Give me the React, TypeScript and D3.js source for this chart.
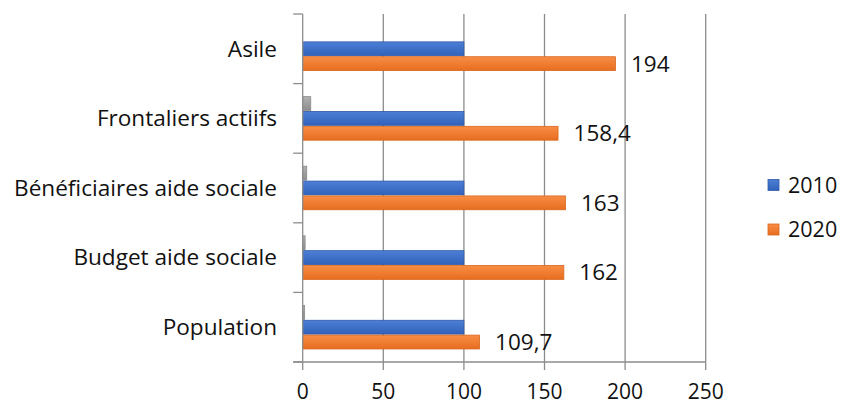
import React from "react";
import * as d3 from "d3";

const categories = ["Asile", "Frontaliers actiifs", "Bénéficiaires aide sociale", "Budget aide sociale", "Population"];
const seriesNames = ["other", "2010", "2020"];
const valuesOther = [0, 5, 2.5, 1.5, 1.2];
const values2010 = [100, 100, 100, 100, 100];
const values2020 = [194, 158.4, 163, 162, 109.7];
const xTicks = [0, 50, 100, 150, 200, 250];
const legendItems = ["2010", "2020"];

const W = 843, H = 404;
const M = { left: 302.7, right: 705.7, top: 14, bottom: 362 };
const FONT = "'Open Sans', sans-serif";
const fmt = d3.formatLocale({ decimal: ",", thousands: " ", grouping: [3], currency: ["", ""] }).format("~f");

export default function App() {
  const x = d3.scaleLinear().domain([0, 250]).range([M.left, M.right]);
  const y = d3.scaleBand().domain(categories).range([M.top, M.bottom]).paddingInner(0.36).paddingOuter(0.18);
  const ys = d3.scaleBand().domain(seriesNames).range([0, y.bandwidth()]);
  const step = y.step();
  const boundaries = d3.range(categories.length + 1).map((i) => M.top + i * step);
  const seriesData: { key: string; vals: number[]; fill: string; stroke: string }[] = [
    { key: "other", vals: valuesOther, fill: "url(#gGrey)", stroke: "#8a8a8a" },
    { key: "2010", vals: values2010, fill: "url(#gBlue)", stroke: "#2e58a8" },
    { key: "2020", vals: values2020, fill: "url(#gOrange)", stroke: "#d9661c" },
  ];
  const gridColor = "#8c8c8c";
  return (
    <svg width={W} height={H} style={{ position: "absolute", left: 0, top: 0, background: "#fff" }} fontFamily={FONT}>
      <defs>
        <linearGradient id="gBlue" x1="0" y1="0" x2="0" y2="1">
          <stop offset="0" stopColor="#4d7fd6" />
          <stop offset="1" stopColor="#3262bb" />
        </linearGradient>
        <linearGradient id="gOrange" x1="0" y1="0" x2="0" y2="1">
          <stop offset="0" stopColor="#f88d45" />
          <stop offset="1" stopColor="#e76d1f" />
        </linearGradient>
        <linearGradient id="gGrey" x1="0" y1="0" x2="0" y2="1">
          <stop offset="0" stopColor="#b0b0b0" />
          <stop offset="1" stopColor="#8e8e8e" />
        </linearGradient>
      </defs>
      {/* gridlines */}
      {xTicks.slice(1).map((t) => (
        <line key={"g" + t} x1={x(t)} x2={x(t)} y1={M.top} y2={M.bottom} stroke={gridColor} strokeWidth={1.3} />
      ))}
      {/* bars */}
      {seriesData.map((s) =>
        categories.map((c, i) => {
          const v = s.vals[i];
          if (v <= 0) return null;
          const by = (y(c) as number) + (ys(s.key) as number);
          return (
            <rect key={s.key + c} x={x(0)} y={by + 0.5} width={x(v) - x(0)} height={ys.bandwidth() - 1}
              fill={s.fill} stroke={s.stroke} strokeWidth={0.8} />
          );
        })
      )}
      {/* left axis */}
      <line x1={M.left} x2={M.left} y1={M.top} y2={M.bottom} stroke={gridColor} strokeWidth={1.3} />
      {boundaries.map((b, i) => (
        <line key={"yt" + i} x1={M.left - 9.5} x2={M.left} y1={b} y2={b} stroke={gridColor} strokeWidth={1.3} />
      ))}
      {/* bottom axis */}
      <line x1={M.left - 9.5} x2={M.right} y1={M.bottom} y2={M.bottom} stroke={gridColor} strokeWidth={1.3} />
      {xTicks.map((t) => (
        <g key={"xt" + t}>
          <line x1={x(t)} x2={x(t)} y1={M.bottom} y2={M.bottom + 8} stroke={gridColor} strokeWidth={1.3} />
          <text x={x(t)} y={399} textAnchor="middle" fontSize={21} fill="#111">{t}</text>
        </g>
      ))}
      {/* category labels */}
      {categories.map((c) => (
        <text key={"cl" + c} x={277} y={(y(c) as number) + y.bandwidth() / 2 + 7.8} textAnchor="end" fontSize={22.6} fill="#111">{c}</text>
      ))}
      {/* data labels */}
      {categories.map((c, i) => (
        <text key={"dl" + c} x={x(values2020[i]) + 15.5}
          y={(y(c) as number) + (ys("2020") as number) + ys.bandwidth() / 2 + 8}
          fontSize={22.5} fill="#111">{fmt(values2020[i])}</text>
      ))}
      {/* legend */}
      {legendItems.map((l, i) => {
        const cy = 185 + i * 44.5;
        return (
          <g key={"lg" + l}>
            <rect x={768} y={cy - 5.5} width={11} height={11} fill={i === 0 ? "url(#gBlue)" : "url(#gOrange)"} stroke={i === 0 ? "#2e58a8" : "#d9661c"} strokeWidth={0.8} />
            <text x={788} y={cy + 7.5} fontSize={21.5} fill="#111">{l}</text>
          </g>
        );
      })}
    </svg>
  );
}
